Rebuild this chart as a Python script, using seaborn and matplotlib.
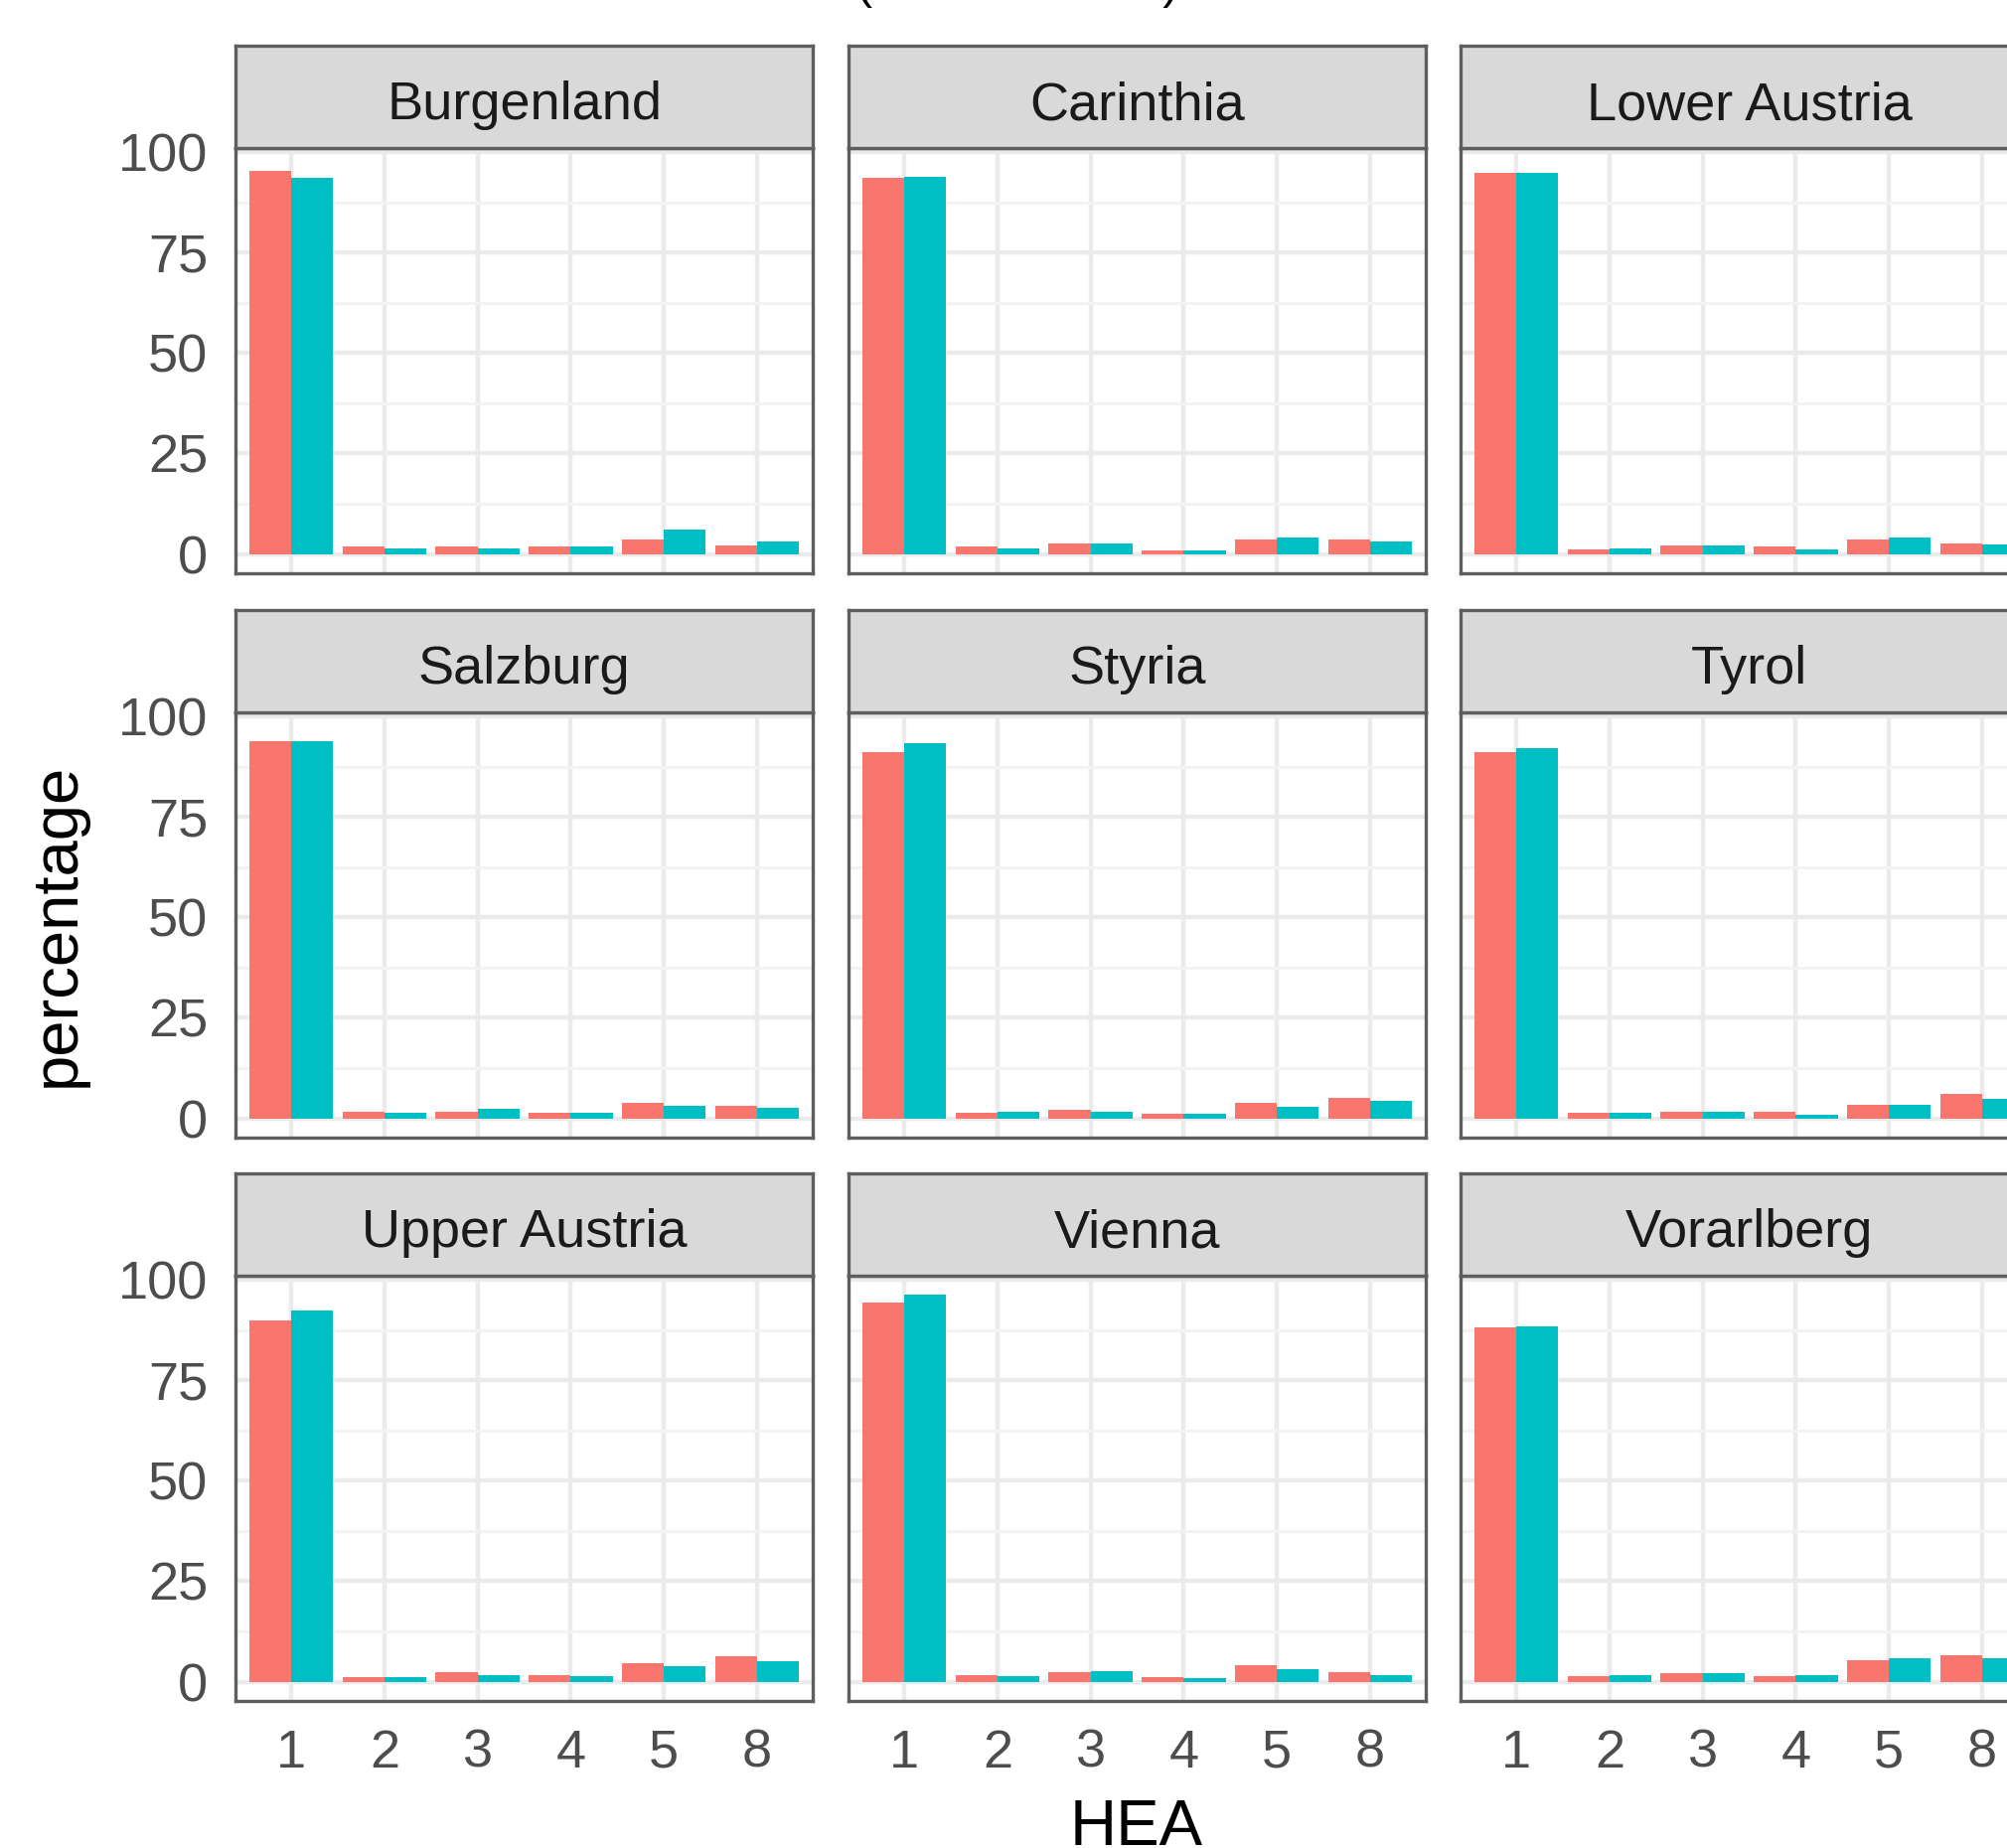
import matplotlib
matplotlib.use("Agg")
import matplotlib.pyplot as plt
from matplotlib.ticker import FixedLocator
import numpy as np
import pandas as pd
import seaborn as sns

# ---- data -------------------------------------------------------------
regions = ["Burgenland", "Carinthia", "Lower Austria",
           "Salzburg", "Styria", "Tyrol",
           "Upper Austria", "Vienna", "Vorarlberg"]
hea_levels = ["1", "2", "3", "4", "5", "8"]
groups = ["2019", "2020"]

pct_2019 = {
    "Burgenland":    [95.3, 1.8, 1.8, 1.8, 3.7, 2.0],
    "Carinthia":     [93.6, 1.8, 2.6, 1.0, 3.6, 3.6],
    "Lower Austria": [94.8, 1.2, 2.0, 1.8, 3.7, 2.6],
    "Salzburg":      [93.8, 1.5, 1.5, 1.3, 3.8, 3.2],
    "Styria":        [91.0, 1.3, 2.2, 1.2, 3.8, 5.0],
    "Tyrol":         [91.1, 1.3, 1.5, 1.5, 3.4, 6.0],
    "Upper Austria": [90.0, 1.2, 2.4, 1.6, 4.5, 6.3],
    "Vienna":        [94.4, 1.6, 2.4, 1.2, 4.2, 2.3],
    "Vorarlberg":    [88.2, 1.3, 2.0, 1.3, 5.4, 6.6],
}
pct_2020 = {
    "Burgenland":    [93.6, 1.4, 1.4, 1.8, 6.0, 3.0],
    "Carinthia":     [93.8, 1.4, 2.6, 1.0, 4.2, 3.2],
    "Lower Austria": [94.8, 1.4, 2.0, 1.2, 4.0, 2.4],
    "Salzburg":      [93.9, 1.4, 2.4, 1.3, 3.2, 2.5],
    "Styria":        [93.4, 1.5, 1.6, 1.1, 2.8, 4.3],
    "Tyrol":         [92.1, 1.3, 1.7, 1.0, 3.4, 4.8],
    "Upper Austria": [92.4, 1.2, 1.7, 1.3, 3.8, 5.1],
    "Vienna":        [96.2, 1.3, 2.6, 1.0, 3.0, 1.7],
    "Vorarlberg":    [88.5, 1.5, 2.0, 1.5, 5.8, 5.8],
}
palette = ["#F8766D", "#00BFC4"]
y_breaks = [0, 25, 50, 75, 100]
y_minor = [12.5, 37.5, 62.5, 87.5]

rows = []
for reg in regions:
    for g, src in zip(groups, [pct_2019, pct_2020]):
        for h, v in zip(hea_levels, src[reg]):
            rows.append({"region": reg, "HEA": h, "group": g, "percentage": v})
df = pd.DataFrame(rows)

# ---- style ------------------------------------------------------------
sns.set_style("white")
plt.rcParams["font.family"] = ["Liberation Sans", "DejaVu Sans"]

W, H = 2020, 1860
fig = plt.figure(figsize=(W / 100, H / 100), dpi=100)

col_x = [237, 854, 1470]
panel_w = 581
row_strip_top = [46, 614, 1181]
strip_h = 103
panel_h = 428

ymax = df["percentage"].max()
ylim = (-0.05 * ymax, 1.05 * ymax)

border_col = "#5E5E5E"
grid_col = "#EBEBEB"


def frac_rect(x, y_top, w, h):
    return [x / W, 1 - (y_top + h) / H, w / W, h / H]


for i, reg in enumerate(regions):
    r, c = divmod(i, 3)
    x0 = col_x[c]
    st = row_strip_top[r]
    pt = st + strip_h

    ax = fig.add_axes(frac_rect(x0, pt, panel_w, panel_h))
    sub = df[df["region"] == reg]
    sns.barplot(data=sub, x="HEA", y="percentage", hue="group",
                order=hea_levels, hue_order=groups, palette=palette,
                width=0.9, errorbar=None, linewidth=0, saturation=1,
                legend=False, ax=ax)
    ax.set_xlim(-0.6, len(hea_levels) - 0.4)
    ax.set_ylim(*ylim)
    ax.set_yticks(y_breaks)
    ax.yaxis.set_minor_locator(FixedLocator(y_minor))
    ax.set_axisbelow(True)
    ax.grid(which="major", axis="both", color=grid_col, lw=3.2)
    ax.grid(which="minor", axis="y", color="#F3F3F3", lw=2.2)
    ax.set_xlabel("")
    ax.set_ylabel("")
    for s in ax.spines.values():
        s.set_color(border_col)
        s.set_linewidth(2.4)
        s.set_zorder(5)
    ax.tick_params(which="minor", length=0)
    ax.tick_params(which="major", length=12, width=2.2, color="#333333",
                   labelsize=39, labelcolor="#4D4D4D", pad=8)
    if c != 0:
        ax.tick_params(axis="y", length=0, labelleft=False)
    if r != 2:
        ax.tick_params(axis="x", length=0, labelbottom=False)

    # facet strip
    sx = fig.add_axes(frac_rect(x0, st, panel_w, strip_h))
    sx.set_facecolor("#D9D9D9")
    sx.set_xticks([])
    sx.set_yticks([])
    for s in sx.spines.values():
        s.set_color(border_col)
        s.set_linewidth(2.4)
    sx.text(0.5, 0.47, reg, ha="center", va="center_baseline", fontsize=39,
            color="#1A1A1A", transform=sx.transAxes)

# axis titles
fig.text((col_x[0] + col_x[2] + panel_w) / 2 / W, 1 - 1840 / H, "HEA",
         ha="center", va="center", fontsize=47, color="black")
fig.text(58 / W, 1 - ((row_strip_top[0] + strip_h) + (row_strip_top[2] + strip_h + panel_h)) / 2 / H,
         "percentage", ha="center", va="center", rotation=90,
         fontsize=47, color="black")

# plot title (sits above the top edge)
fig.text(1024 / W, 1 + 2 / H, "(2019 vs 2020)", ha="center", va="baseline",
         fontsize=35, color="black")

fig.savefig("out.png", dpi=100)
